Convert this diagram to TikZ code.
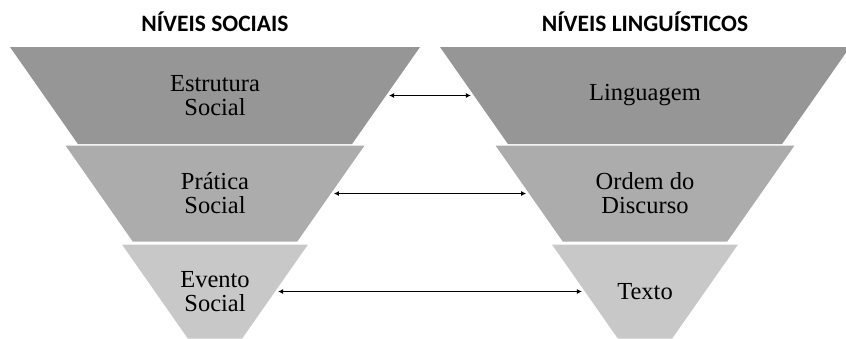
\documentclass[tikz,border=0pt]{standalone}
\usepackage{fontspec}
\setmainfont{Liberation Serif}
\newfontfamily\headfont{Carlito}
\usetikzlibrary{shapes.geometric,arrows.meta}

\definecolor{tone1}{RGB}{150,150,150}
\definecolor{tone2}{RGB}{172,172,172}
\definecolor{tone3}{RGB}{200,200,200}

\begin{document}
\begin{tikzpicture}[
	x=1pt, y=1pt,
	node distance=98pt,
	% width of the top side, half the height
	level/.style 2 args={trapezium, trapezium angle=55, shape border rotate=180,
		trapezium stretches body, minimum width=#1, inner xsep=0pt, inner ysep=#2,
		outer sep=0pt},
	every label/.style={align=center, font=\fontsize{24.5}{24}\selectfont},
	heading/.style={anchor=base, font=\headfont\bfseries\fontsize{23.5}{26}\selectfont},
	link/.style={{Latex[length=5pt,width=5pt]}-{Latex[length=5pt,width=5pt]},
		line width=1.1pt, shorten <=3pt, shorten >=3pt}
	]
	\useasboundingbox (0,0) rectangle (846,-338);
	
	% Titles
	\node[heading] (social) at (215,-31.5) {NÍVEIS SOCIAIS};
	\node[heading] (linguistico) at (645,-31.5) {NÍVEIS LINGUÍSTICOS};
	
	% Social levels
	\node[level={410pt}{48.5pt}, fill=tone1, label=center:Estrutura\\Social] (estrutura) at (215,-95.5) {};
	\node[level={299pt}{48pt}, fill=tone2, label=center:Prática\\Social, below of=estrutura] (pratica) {};
	\node[level={186pt}{47pt}, fill=tone3, label=center:Evento\\Social, below of=pratica] (evento) {};
	
	% Linguistic levels
	\node[level={410pt}{48.5pt}, fill=tone1, label=center:Linguagem, node distance=430pt, right of=estrutura] (linguagem) {};
	\node[level={299pt}{48pt}, fill=tone2, label=center:Ordem do\\Discurso, below of=linguagem] (ordem) {};
	\node[level={186pt}{47pt}, fill=tone3, label=center:Texto, below of=ordem] (texto) {};
	
	% Correspondences
	\draw[link] (estrutura) -- (linguagem);
	\draw[link] (pratica) -- (ordem);
	\draw[link] (evento) -- (texto);
\end{tikzpicture}
\end{document}
